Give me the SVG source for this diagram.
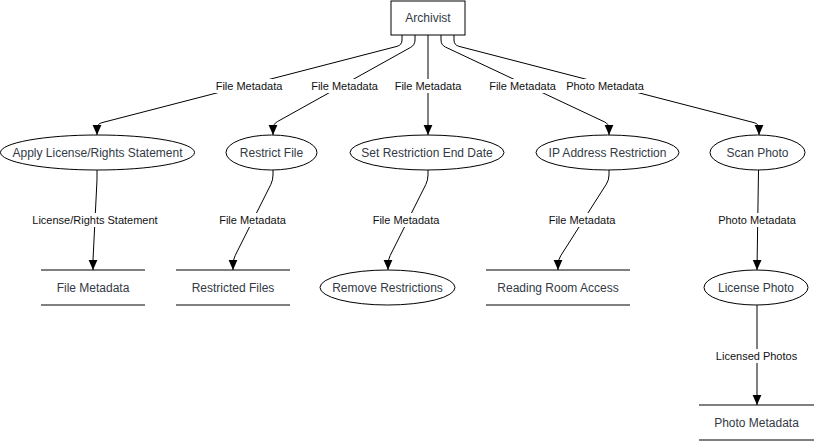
<svg xmlns="http://www.w3.org/2000/svg" width="815" height="441" viewBox="0 0 815 441">
<style>
.shape{fill:#ffffff;stroke:#000000;stroke-width:1}
.line{fill:none;stroke:#000000;stroke-width:1}
.nt{font-family:"Liberation Sans",Arial,sans-serif;font-size:12px;fill:#333a45;text-anchor:middle}
.et{font-family:"Liberation Sans",Arial,sans-serif;font-size:11px;fill:#111111;text-anchor:middle}
.bg{fill:#ffffff;stroke:none}
.conn{fill:none;stroke:#000000;stroke-width:1;marker-end:url(#arrow)}
</style>
<defs>
<marker id="arrow" markerUnits="userSpaceOnUse" markerWidth="10" markerHeight="10" viewBox="0 0 8 7" refX="8" refY="3.5" orient="auto">
<path d="M0,0 L8,3.5 L0,7 Z" fill="#000000"/>
</marker>
</defs>
<rect width="815" height="441" fill="#ffffff"/>

<g id="connectors">
<path class="conn" d="M402,35 L402,40 Q402,45 397.2,46.3 L101.8,122.7 Q97,124 97,129 L97,135"/>
<path class="conn" d="M415,35 L415,40 Q415,45 410.6,47.4 L277.4,121.6 Q273,124 273,129 L273,135"/>
<path class="conn" d="M428,35 L428,135"/>
<path class="conn" d="M441,35 L441,40 Q441,45 445.5,47.1 L604.5,121.9 Q609,124 609,129 L609,135"/>
<path class="conn" d="M454,35 L454,40 Q454,45 458.8,46.3 L754.2,122.7 Q759,124 759,129 L759,135"/>
<path class="conn" d="M97,170 L97,178 Q97,180 96.9,182 L93.1,258 Q93,260 93,262 L93,270"/>
<path class="conn" d="M273,170 L273,175 Q273,180 270.8,184.5 L235.2,255.5 Q233,260 233,265 L233,270"/>
<path class="conn" d="M428,170 L428,175 Q428,180 425.8,184.5 L390.2,255.5 Q388,260 388,265 L388,270"/>
<path class="conn" d="M609,170 L609,175 Q609,180 606.3,184.2 L560.7,255.8 Q558,260 558,265 L558,270"/>
<path class="conn" d="M758.5,170 L757,270"/>
<path class="conn" d="M757,305 L757,405"/>

<rect class="bg" x="215" y="79" width="68" height="14"/>
<text class="et" x="249" y="90">File Metadata</text>
<rect class="bg" x="310" y="79" width="69" height="14"/>
<text class="et" x="344.5" y="90">File Metadata</text>
<rect class="bg" x="394" y="79" width="68" height="14"/>
<text class="et" x="428" y="90">File Metadata</text>
<rect class="bg" x="488" y="79" width="69" height="14"/>
<text class="et" x="522.5" y="90">File Metadata</text>
<rect class="bg" x="566" y="79" width="78" height="14"/>
<text class="et" x="605" y="90">Photo Metadata</text>

<rect class="bg" x="32" y="213" width="126" height="14"/>
<text class="et" x="95" y="224">License/Rights Statement</text>
<rect class="bg" x="218" y="213" width="69" height="14"/>
<text class="et" x="252.5" y="224">File Metadata</text>
<rect class="bg" x="372" y="213" width="68" height="14"/>
<text class="et" x="406" y="224">File Metadata</text>
<rect class="bg" x="548" y="213" width="68" height="14"/>
<text class="et" x="582" y="224">File Metadata</text>
<rect class="bg" x="718" y="213" width="78" height="14"/>
<text class="et" x="757" y="224">Photo Metadata</text>
<rect class="bg" x="715" y="349" width="82" height="14"/>
<text class="et" x="756.5" y="360">Licensed Photos</text>
</g>

<g id="archivist">
<rect class="shape" x="391" y="1" width="74" height="34"/>
<text class="nt" x="428" y="22">Archivist</text>
</g>
<g id="apply-license">
<ellipse class="shape" cx="97.5" cy="152.5" rx="97" ry="17.5"/>
<text class="nt" x="97.5" y="156.5">Apply License/Rights Statement</text>
</g>
<g id="restrict-file">
<ellipse class="shape" cx="271.5" cy="152.5" rx="45.5" ry="17.5"/>
<text class="nt" x="271.5" y="156.5">Restrict File</text>
</g>
<g id="set-restriction-end-date">
<ellipse class="shape" cx="427" cy="152.5" rx="77" ry="17.5"/>
<text class="nt" x="427" y="156.5">Set Restriction End Date</text>
</g>
<g id="ip-address-restriction">
<ellipse class="shape" cx="607.5" cy="152.5" rx="71.5" ry="17.5"/>
<text class="nt" x="607.5" y="156.5">IP Address Restriction</text>
</g>
<g id="scan-photo">
<ellipse class="shape" cx="757.5" cy="152.5" rx="47.5" ry="17.5"/>
<text class="nt" x="757.5" y="156.5">Scan Photo</text>
</g>
<g id="file-metadata-store">
<line class="line" x1="41" y1="270" x2="145" y2="270"/>
<line class="line" x1="41" y1="305" x2="145" y2="305"/>
<text class="nt" x="93" y="292">File Metadata</text>
</g>
<g id="restricted-files-store">
<line class="line" x1="176" y1="270" x2="290" y2="270"/>
<line class="line" x1="176" y1="305" x2="290" y2="305"/>
<text class="nt" x="233" y="292">Restricted Files</text>
</g>
<g id="remove-restrictions">
<ellipse class="shape" cx="387.5" cy="287.5" rx="67.5" ry="17.5"/>
<text class="nt" x="387.5" y="291.5">Remove Restrictions</text>
</g>
<g id="reading-room-store">
<line class="line" x1="486" y1="270" x2="630" y2="270"/>
<line class="line" x1="486" y1="305" x2="630" y2="305"/>
<text class="nt" x="558" y="292">Reading Room Access</text>
</g>
<g id="license-photo">
<ellipse class="shape" cx="756" cy="287.5" rx="52" ry="17.5"/>
<text class="nt" x="756" y="291.5">License Photo</text>
</g>
<g id="photo-metadata-store">
<line class="line" x1="699" y1="405" x2="814" y2="405"/>
<line class="line" x1="699" y1="440" x2="814" y2="440"/>
<text class="nt" x="756.5" y="427">Photo Metadata</text>
</g>
</svg>
